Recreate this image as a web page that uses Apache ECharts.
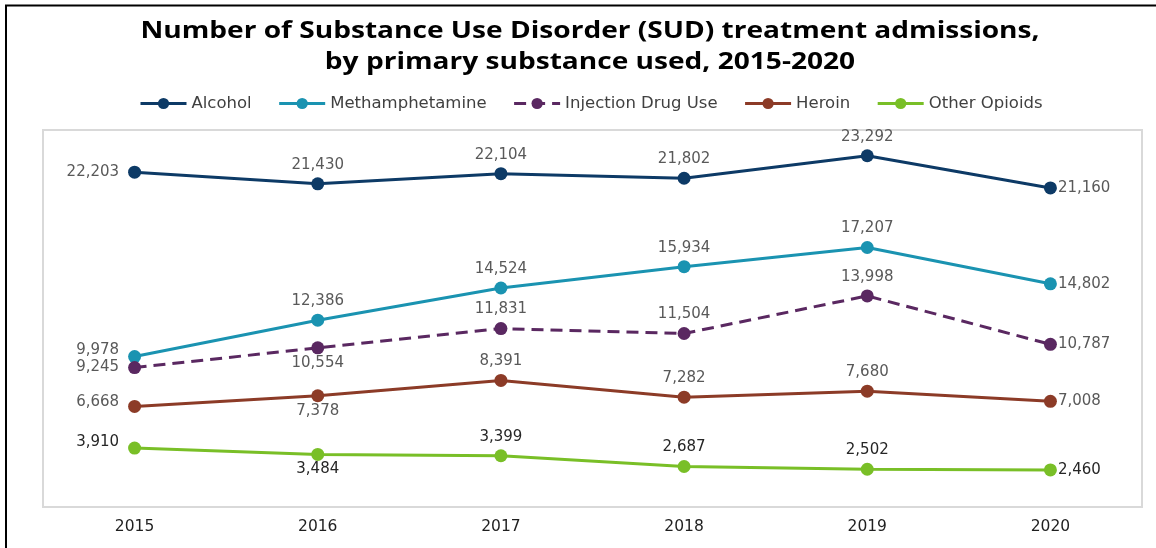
<!DOCTYPE html>
<html>
<head>
<meta charset="utf-8">
<script src="https://cdn.jsdelivr.net/npm/echarts@6/dist/echarts.min.js"></script>
<style>
  html, body { margin: 0; padding: 0; background: #fff; }
  #chart { width: 1156px; height: 548px; }
</style>
</head>
<body>
<div id="chart"></div>
<script>
// Admissions by primary substance, 2015-2020
const years = ['2015', '2016', '2017', '2018', '2019', '2020'];
const alcohol = [22203, 21430, 22104, 21802, 23292, 21160];
const methamphetamine = [9978, 12386, 14524, 15934, 17207, 14802];
const injectionDrugUse = [9245, 10554, 11831, 11504, 13998, 10787];
const heroin = [6668, 7378, 8391, 7282, 7680, 7008];
const otherOpioids = [3910, 3484, 3399, 2687, 2502, 2460];

const titleLines = [
  'Number of Substance Use Disorder (SUD) treatment admissions,',
  'by primary substance used, 2015-2020'
];

// where each value label sits relative to its marker
const labelSides = {
  alcohol: ['left', 'top', 'top', 'top', 'top', 'right'],
  meth: ['left', 'top', 'top', 'top', 'top', 'right'],
  idu: ['left', 'bottom', 'top', 'top', 'top', 'right'],
  heroin: ['left', 'bottom', 'top', 'top', 'top', 'right'],
  other: ['left', 'bottom', 'top', 'top', 'top', 'right']
};
const firstLabelLift = { alcohol: 0, meth: -6, idu: 0, heroin: -4, other: -6 };
const sideDistance = { left: 9, top: 5, bottom: 1, right: 1 };

const FONT = '"DejaVu Sans", Verdana, sans-serif';

function points(values, key, labelColor) {
  return values.map((v, i) => {
    const side = labelSides[key][i];
    return {
      value: v,
      label: {
        position: side,
        distance: sideDistance[side],
        offset: i === 0 ? [0, firstLabelLift[key]] : [0, 0],
        color: labelColor
      }
    };
  });
}

function lineSeries(name, values, key, color, labelColor, dashed) {
  return {
    name: name,
    type: 'line',
    data: points(values, key, labelColor),
    symbol: 'circle',
    symbolSize: 13,
    showAllSymbol: true,
    lineStyle: { color: color, width: 3, type: dashed ? [12, 7] : 'solid' },
    itemStyle: { color: color },
    label: {
      show: true,
      fontFamily: FONT,
      fontSize: 15,
      formatter: p => p.value.toLocaleString('en-US')
    },
    emphasis: { disabled: true },
    animation: false
  };
}

const chart = echarts.init(document.getElementById('chart'), null, { renderer: 'canvas' });

// heading drawn as two widened bold text lines
const titleGraphics = titleLines.map((line, i) => ({
  type: 'text',
  x: 590,
  y: 31 + i * 31,
  scaleX: 1.17,
  silent: true,
  style: {
    text: line,
    fill: '#000000',
    font: 'bold 24px "Open Sans", sans-serif',
    textAlign: 'center',
    textVerticalAlign: 'middle'
  }
}));

chart.setOption({
  backgroundColor: '#ffffff',
  animation: false,
  legend: {
    left: 134,
    top: 90,
    itemWidth: 46,
    itemHeight: 14,
    itemGap: 26,
    lineStyle: { width: 3 },
    textStyle: { fontFamily: FONT, fontSize: 16.5, color: '#404040' },
    data: ['Alcohol', 'Methamphetamine', 'Injection Drug Use', 'Heroin', 'Other Opioids']
  },
  grid: {
    left: 43,
    right: 14,
    top: 130,
    bottom: 41,
    show: true,
    borderColor: '#d9d9d9',
    borderWidth: 2,
    backgroundColor: 'transparent'
  },
  xAxis: {
    type: 'category',
    data: years,
    boundaryGap: true,
    axisLine: { show: false },
    axisTick: { show: false },
    splitLine: { show: false },
    axisLabel: { fontFamily: FONT, fontSize: 15.5, color: '#1f1f1f', margin: 12 }
  },
  yAxis: {
    type: 'value',
    min: 0,
    max: 25000,
    show: false,
    splitLine: { show: false }
  },
  graphic: [
    { type: 'line', shape: { x1: 5, y1: 5.5, x2: 1156, y2: 5.5 }, style: { stroke: '#000', lineWidth: 2 }, silent: true },
    { type: 'line', shape: { x1: 6, y1: 5, x2: 6, y2: 548 }, style: { stroke: '#000', lineWidth: 2 }, silent: true }
  ].concat(titleGraphics),
  series: [
    lineSeries('Alcohol', alcohol, 'alcohol', '#0d3a66', '#595959', false),
    lineSeries('Methamphetamine', methamphetamine, 'meth', '#1a93b1', '#595959', false),
    lineSeries('Injection Drug Use', injectionDrugUse, 'idu', '#5a2861', '#595959', true),
    lineSeries('Heroin', heroin, 'heroin', '#8c3b27', '#595959', false),
    lineSeries('Other Opioids', otherOpioids, 'other', '#79bf27', '#262626', false)
  ]
});
</script>
</body>
</html>
